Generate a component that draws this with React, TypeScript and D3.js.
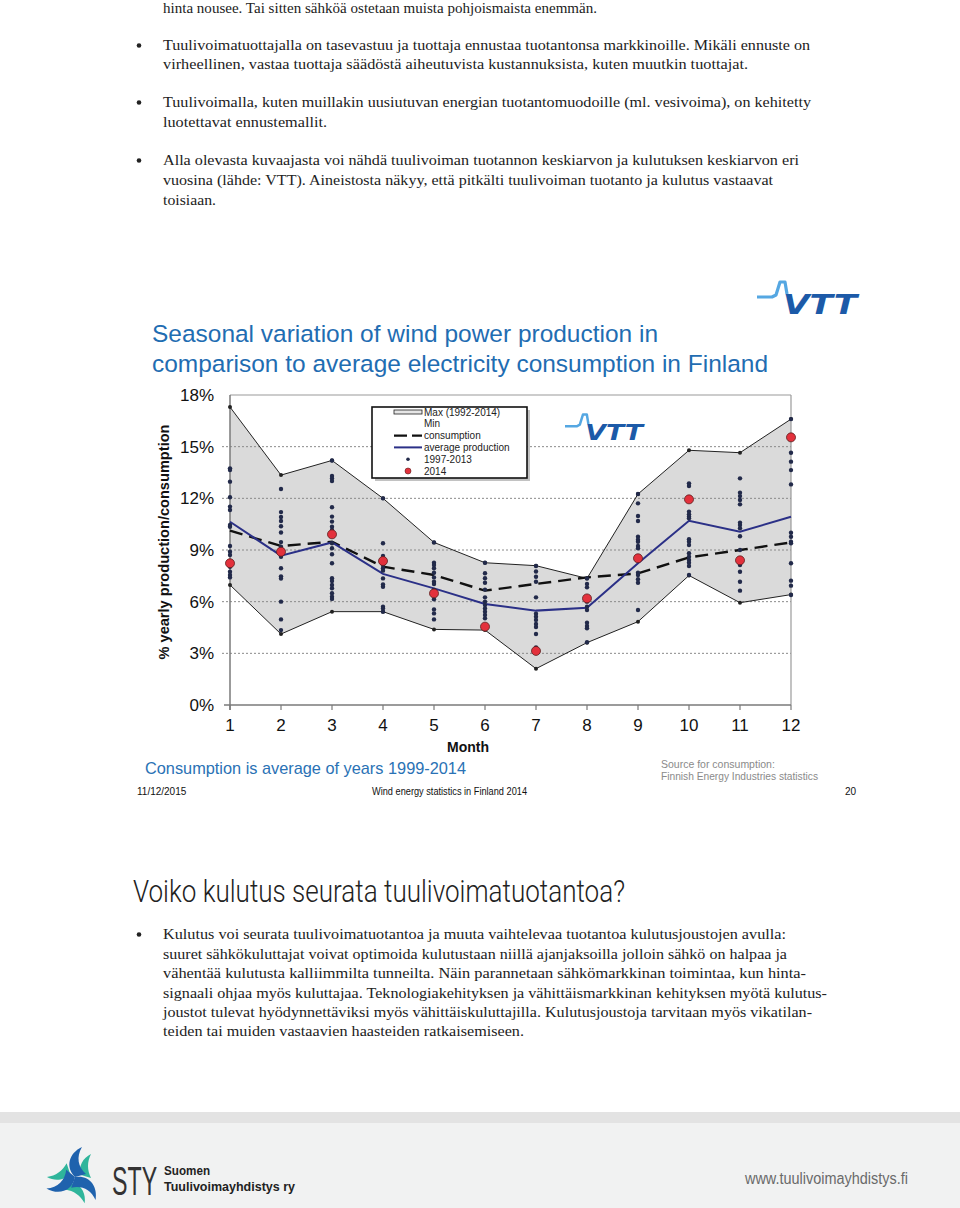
import React from "react";
import * as d3 from "d3";

// ---------- chart data ----------
const months = [1, 2, 3, 4, 5, 6, 7, 8, 9, 10, 11, 12];
const maxValues = [17.3, 13.35, 14.2, 12.0, 9.44, 8.26, 8.09, 7.35, 12.25, 14.79, 14.65, 16.6];
const minValues = [6.97, 4.12, 5.42, 5.42, 4.39, 4.35, 2.11, 3.62, 4.84, 7.52, 5.94, 6.41];
const consumption = [10.12, 9.23, 9.48, 8.03, 7.55, 6.64, 7.03, 7.41, 7.64, 8.57, 9.0, 9.44];
const avgProduction = [10.64, 8.67, 9.44, 7.61, 6.77, 5.86, 5.48, 5.65, 8.23, 10.7, 10.06, 10.93];
const production2014 = [8.23, 8.9, 9.91, 8.36, 6.48, 4.55, 3.14, 6.19, 8.52, 11.94, 8.4, 15.54];
const production1997to2013 = [
  [13.74, 13.64, 12.97, 12.06, 11.52, 11.32, 10.45, 10.35, 9.23, 8.9, 8.71, 8.32, 8.03, 7.74, 7.55, 7.41],
  [12.54, 11.2, 10.92, 10.68, 10.38, 10.02, 9.46, 9.19, 8.71, 8.61, 7.94, 7.47, 7.34, 6.0, 4.97, 4.35],
  [14.2, 13.3, 13.15, 13.0, 11.48, 10.94, 10.65, 10.35, 10.16, 9.39, 9.1, 8.75, 8.23, 7.36, 7.2, 6.97, 6.78, 6.49, 6.29, 6.16],
  [12.0, 9.39, 8.65, 8.52, 8.32, 8.13, 7.94, 7.8, 7.35, 7.0, 6.87, 5.71, 5.6, 5.42],
  [9.44, 8.26, 8.13, 7.94, 7.68, 7.41, 7.16, 7.03, 6.68, 6.14, 5.55, 5.32, 4.97],
  [8.26, 7.65, 7.36, 7.1, 6.7, 6.25, 6.0, 5.8, 5.61, 5.42, 5.23, 5.03],
  [8.07, 7.75, 7.45, 7.16, 6.25, 5.3, 5.13, 4.94, 4.7, 4.53, 4.12, 3.34],
  [7.35, 7.03, 6.83, 6.0, 5.71, 5.52, 4.78, 4.59, 4.45, 3.65],
  [12.25, 11.71, 10.97, 10.68, 9.77, 9.6, 9.48, 9.23, 9.1, 7.68, 7.55, 7.3, 7.1, 5.52],
  [12.87, 12.72, 11.23, 11.07, 10.94, 10.84, 9.62, 9.48, 9.29, 8.81, 8.61, 8.42, 8.26, 8.07, 7.55],
  [13.16, 12.33, 12.13, 11.9, 11.65, 10.59, 10.45, 10.26, 9.8, 9.0, 8.13, 7.74, 7.16, 6.64],
  [16.6, 14.65, 14.13, 13.64, 12.81, 10.0, 9.77, 9.48, 9.39, 8.23, 7.22, 6.93, 6.39],
];
const yTicks = [0, 3, 6, 9, 12, 15, 18];
const legendLabels = ["Max (1992-2014)", "Min", "consumption", "average production", "1997-2013", "2014"];

// ---------- page text ----------
const topLines = [
  { t: "hinta nousee. Tai sitten sähköä ostetaan muista pohjoismaista enemmän.", y: 13, w: 434, bullet: false },
  { t: "Tuulivoimatuottajalla on tasevastuu ja tuottaja ennustaa tuotantonsa markkinoille. Mikäli ennuste on", y: 50, w: 647, bullet: true },
  { t: "virheellinen, vastaa tuottaja säädöstä aiheutuvista kustannuksista, kuten muutkin tuottajat.", y: 69, w: 585, bullet: false },
  { t: "Tuulivoimalla, kuten muillakin uusiutuvan energian tuotantomuodoille (ml. vesivoima), on kehitetty", y: 107, w: 648, bullet: true },
  { t: "luotettavat ennustemallit.", y: 127, w: 164, bullet: false },
  { t: "Alla olevasta kuvaajasta voi nähdä tuulivoiman tuotannon keskiarvon ja kulutuksen keskiarvon eri", y: 165, w: 636, bullet: true },
  { t: "vuosina (lähde: VTT). Aineistosta näkyy, että pitkälti tuulivoiman tuotanto ja kulutus vastaavat", y: 185, w: 610, bullet: false },
  { t: "toisiaan.", y: 205, w: 53, bullet: false },
];
const bottomLines = [
  { t: "Kulutus voi seurata tuulivoimatuotantoa ja muuta vaihtelevaa tuotantoa kulutusjoustojen avulla:", y: 939, w: 623, bullet: true },
  { t: "suuret sähkökuluttajat voivat optimoida kulutustaan niillä ajanjaksoilla jolloin sähkö on halpaa ja", y: 959, w: 624, bullet: false },
  { t: "vähentää kulutusta kalliimmilta tunneilta. Näin parannetaan sähkömarkkinan toimintaa, kun hinta-", y: 978, w: 643, bullet: false },
  { t: "signaali ohjaa myös kuluttajaa. Teknologiakehityksen ja vähittäismarkkinan kehityksen myötä kulutus-", y: 998, w: 664, bullet: false },
  { t: "joustot tulevat hyödynnettäviksi myös vähittäiskuluttajilla. Kulutusjoustoja tarvitaan myös vikatilan-", y: 1017, w: 649, bullet: false },
  { t: "teiden tai muiden vastaavien haasteiden ratkaisemiseen.", y: 1036, w: 361, bullet: false },
];

const SERIF = "'Liberation Serif', 'DejaVu Serif', serif";
const SANS = "Arial, 'Liberation Sans', Helvetica, sans-serif";

function VttLogo({ x, y, s }: { x: number; y: number; s: number }) {
  return (
    <g transform={`translate(${x},${y}) scale(${s})`}>
      <path d="M0,17 L15,17 L19,15 L23,2 L28,2 L30,14" fill="none" stroke="#55a7e2" strokeWidth={3.2} strokeLinejoin="round" />
      <text x={26} y={34} fontFamily="'DejaVu Sans', sans-serif" fontWeight="bold" fontStyle="italic" fontSize={27}
        textLength={74} lengthAdjust="spacingAndGlyphs" fill="#1c5aa8">VTT</text>
    </g>
  );
}

function StyLogo() {
  const cx = 75, cy = 1177;
  const blue = "M0,0 C-10,-10 -6,-24 7,-30 C1,-20 3,-10 11,-3 Z";
  const green = "M6,-2 C3,-11 8,-19 16,-23 C12,-15 12,-7 16,1 Z";
  return (
    <g>
      {[0, 125, 235].map((r) => (
        <g key={r} transform={`translate(${cx},${cy}) rotate(${r})`}>
          <path d={green} fill="#2fb59b" />
          <path d={blue} fill="#1f62ad" />
        </g>
      ))}
      <text transform="translate(112,1195) scale(0.58,1)" fontFamily={SANS} fontWeight={300} fontSize={40} fill="#333">STY</text>
      <text x={164} y={1175} fontFamily={SANS} fontWeight="bold" fontSize={12.5} textLength={46} lengthAdjust="spacingAndGlyphs" fill="#222">Suomen</text>
      <text x={164} y={1191} fontFamily={SANS} fontWeight="bold" fontSize={12.5} textLength={131} lengthAdjust="spacingAndGlyphs" fill="#222">Tuulivoimayhdistys ry</text>
    </g>
  );
}

export default function App() {
  const x = d3.scaleLinear().domain([1, 12]).range([230, 791]);
  const y = d3.scaleLinear().domain([0, 18]).range([705, 395]);

  const band = d3.area<number>().x((_, i) => x(months[i])).y0((_, i) => y(minValues[i])).y1((d) => y(d));
  const line = d3.line<number>().x((_, i) => x(months[i])).y((d) => y(d));

  const legX = 372, legY = 407;
  const legRowY = (i: number) => legY + 5 + i * 11.8;

  return (
    <div style={{ position: "absolute", left: 0, top: 0 }}>
      <svg width={960} height={1208} style={{ display: "block", background: "#fff" }}>
        {/* top text */}
        {topLines.map((l, i) => (
          <g key={i}>
            {l.bullet && <circle cx={139} cy={l.y - 4.5} r={2.3} fill="#222" />}
            <text x={163} y={l.y} fontFamily={SERIF} fontSize={15} fill="#222" textLength={l.w} lengthAdjust="spacingAndGlyphs">{l.t}</text>
          </g>
        ))}

        {/* top VTT logo */}
        <VttLogo x={757} y={280} s={1} />

        {/* chart title */}
        <text x={152} y={342} fontFamily={SANS} fontSize={24.5} fill="#1f6db2" textLength={506} lengthAdjust="spacingAndGlyphs">Seasonal variation of wind power production in</text>
        <text x={152} y={372} fontFamily={SANS} fontSize={24.5} fill="#1f6db2" textLength={616} lengthAdjust="spacingAndGlyphs">comparison to average electricity consumption in Finland</text>

        {/* band */}
        <path d={band(maxValues) || ""} fill="#dadada" stroke="none" />

        {/* gridlines */}
        {yTicks.filter((t) => t > 0 && t < 18).map((t) => (
          <line key={t} x1={222} x2={791} y1={y(t)} y2={y(t)} stroke="#8a8a8a" strokeWidth={1} strokeDasharray="2,2" />
        ))}
        {/* frame */}
        <line x1={x(1)} x2={791} y1={y(18)} y2={y(18)} stroke="#9a9a9a" strokeWidth={1.2} />
        <line x1={791} x2={791} y1={y(18)} y2={y(0)} stroke="#9a9a9a" strokeWidth={1.2} />
        <line x1={x(1)} x2={x(1)} y1={y(18)} y2={y(0) + 5} stroke="#7a7a7a" strokeWidth={1.5} />
        <line x1={224} x2={791} y1={y(0)} y2={y(0)} stroke="#7a7a7a" strokeWidth={1.5} />
        {months.map((m) => (
          <line key={m} x1={x(m)} x2={x(m)} y1={y(0)} y2={y(0) + 5} stroke="#7a7a7a" strokeWidth={1.2} />
        ))}

        {/* max / min lines */}
        <path d={line(maxValues) || ""} fill="none" stroke="#222" strokeWidth={1} />
        <path d={line(minValues) || ""} fill="none" stroke="#222" strokeWidth={1} />
        {months.map((m, i) => (
          <g key={m}>
            <circle cx={x(m)} cy={y(maxValues[i])} r={2} fill="#222" />
            <circle cx={x(m)} cy={y(minValues[i])} r={2} fill="#222" />
          </g>
        ))}

        {/* consumption & average production */}
        <path d={line(consumption) || ""} fill="none" stroke="#111" strokeWidth={2.4} strokeDasharray="13,7" />
        <path d={line(avgProduction) || ""} fill="none" stroke="#2b3087" strokeWidth={2} />

        {/* 1997-2013 dots */}
        {production1997to2013.map((vals, i) =>
          vals.map((v, j) => <circle key={`${i}-${j}`} cx={x(months[i])} cy={y(v)} r={2.2} fill="#222a4a" />)
        )}
        {/* 2014 */}
        {production2014.map((v, i) => (
          <circle key={i} cx={x(months[i])} cy={y(v)} r={4.5} fill="#e3313c" stroke="#5a1d1d" strokeWidth={0.8} />
        ))}

        {/* legend */}
        <rect x={legX + 3} y={legY + 3} width={155} height={71} fill="#9a9a9a" opacity={0.6} />
        <rect x={legX} y={legY} width={155} height={71} fill="#fff" stroke="#111" strokeWidth={1.6} />
        <rect x={394} y={legRowY(0) - 2} width={28} height={4} fill="#e6e6e6" stroke="#222" strokeWidth={0.8} />
        <line x1={394} x2={422} y1={legRowY(2)} y2={legRowY(2)} stroke="#111" strokeWidth={2.2} strokeDasharray="13,5" />
        <line x1={394} x2={422} y1={legRowY(3)} y2={legRowY(3)} stroke="#2b3087" strokeWidth={2} />
        <circle cx={408} cy={legRowY(4)} r={1.8} fill="#222a4a" />
        <circle cx={408} cy={legRowY(5)} r={3} fill="#e3313c" stroke="#5a1d1d" strokeWidth={0.6} />
        {legendLabels.map((l, i) => (
          <text key={l} x={424} y={legRowY(i) + 3.6} fontFamily={SANS} fontSize={10} fill="#222">{l}</text>
        ))}

        {/* inner VTT logo */}
        <VttLogo x={565} y={413} s={0.78} />

        {/* axes labels */}
        {yTicks.map((t) => (
          <text key={t} x={214} y={y(t) + 6} textAnchor="end" fontFamily={SANS} fontSize={17} fill="#111">{`${t}%`}</text>
        ))}
        {months.map((m) => (
          <text key={m} x={x(m)} y={731} textAnchor="middle" fontFamily={SANS} fontSize={17} fill="#111">{m}</text>
        ))}
        <text x={468} y={752} textAnchor="middle" fontFamily={SANS} fontWeight="bold" fontSize={14} fill="#111">Month</text>
        <text transform="translate(169,542) rotate(-90)" textAnchor="middle" fontFamily={SANS} fontWeight="bold" fontSize={15.5}
          textLength={235} lengthAdjust="spacingAndGlyphs" fill="#111">% yearly production/consumption</text>

        <text x={145} y={774} fontFamily={SANS} fontSize={17} fill="#2a72b5" textLength={321} lengthAdjust="spacingAndGlyphs">Consumption is average of years 1999-2014</text>
        <text x={661} y={768} fontFamily={SANS} fontSize={10.5} fill="#8a8a8a">Source for consumption:</text>
        <text x={661} y={780} fontFamily={SANS} fontSize={10.5} fill="#8a8a8a" textLength={157} lengthAdjust="spacingAndGlyphs">Finnish Energy Industries statistics</text>
        <text x={137} y={795} fontFamily={SANS} fontSize={10} fill="#111">11/12/2015</text>
        <text x={372} y={795} fontFamily={SANS} fontSize={10} fill="#111" textLength={155} lengthAdjust="spacingAndGlyphs">Wind energy statistics in Finland 2014</text>
        <text x={845} y={795} fontFamily={SANS} fontSize={10} fill="#111">20</text>

        {/* heading */}
        <text x={133} y={902} fontFamily="'Liberation Sans Narrow', Roboto, sans-serif" fontWeight={300} fontSize={31} fill="#222"
          textLength={492} lengthAdjust="spacingAndGlyphs">Voiko kulutus seurata tuulivoimatuotantoa?</text>

        {bottomLines.map((l, i) => (
          <g key={i}>
            {l.bullet && <circle cx={139} cy={l.y - 4.5} r={2.3} fill="#222" />}
            <text x={163} y={l.y} fontFamily={SERIF} fontSize={15} fill="#222" textLength={l.w} lengthAdjust="spacingAndGlyphs">{l.t}</text>
          </g>
        ))}

        {/* footer */}
        <rect x={0} y={1112} width={960} height={96} fill="#f1f2f2" />
        <rect x={0} y={1112} width={960} height={11} fill="#e3e3e3" />
        <StyLogo />
        <text x={745} y={1184} fontFamily={SANS} fontSize={16} fill="#6a6a6a" textLength={163} lengthAdjust="spacingAndGlyphs">www.tuulivoimayhdistys.fi</text>
      </svg>
    </div>
  );
}
